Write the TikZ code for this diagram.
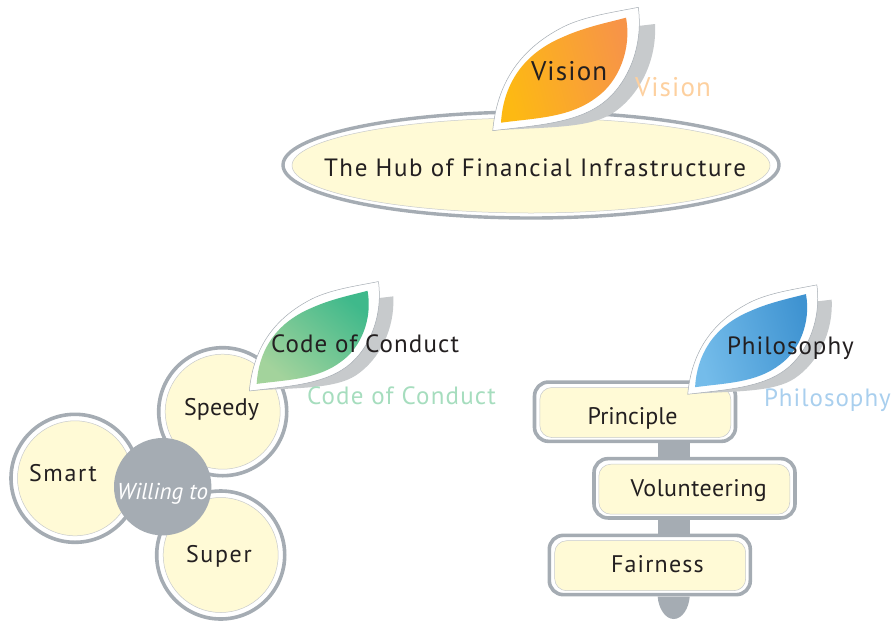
\documentclass[tikz,border=0pt]{standalone}
\usepackage{fontspec}
\setmainfont{PT Sans}
\usepackage{xcolor}
\usetikzlibrary{shapes.geometric}
\definecolor{ringgrey}{HTML}{A5ACB3}
\definecolor{shadowgrey}{HTML}{C7CACC}
\definecolor{cream}{HTML}{FFFAD6}
\definecolor{inktext}{HTML}{231F20}
\definecolor{paleorange}{HTML}{FDD09F}
\definecolor{palegreen}{HTML}{A6DDBE}
\definecolor{paleblue}{HTML}{A9CFEE}
\definecolor{visionstart}{HTML}{FDB913}
\definecolor{visionmid}{HTML}{FAA62E}
\definecolor{visionend}{HTML}{F79448}
\definecolor{codestart}{HTML}{A3D39C}
\definecolor{codeend}{HTML}{3FB98B}
\definecolor{philostart}{HTML}{74BCEA}
\definecolor{philomid}{HTML}{59A7DD}
\definecolor{philoend}{HTML}{3F93D1}
\tikzset{
  ringout/.style={circle,draw=ringgrey,line width=3.6pt,fill=white,minimum size=128pt,inner sep=0pt},
  ringin/.style={circle,draw=shadowgrey,line width=0.5pt,fill=cream,minimum size=115pt,inner sep=0pt},
  boxout/.style={rectangle,rounded corners=14pt,draw=ringgrey,line width=3.6pt,fill=white,minimum width=201pt,minimum height=59.3pt,inner sep=0pt},
  boxin/.style={rectangle,rounded corners=12pt,draw=shadowgrey,line width=0.5pt,fill=cream,minimum width=191pt,minimum height=50pt,inner sep=0pt},
  stem/.style={draw=ringgrey,line width=32pt,line cap=butt},
  word/.style={anchor=base west,inner sep=0pt,outer sep=0pt,text=inktext,font=\fontsize{#1}{30}\selectfont},
  paleword/.style={anchor=base west,inner sep=0pt,outer sep=0pt,text=#1,font=\fontsize{25}{30}\selectfont}
}
\newcommand{\track}[2]{{\addfontfeature{LetterSpace=#1}#2}}
\newcommand{\leafmark}[7]{%
  \begin{scope}[shift={(#1,#2)},scale=#3]
    \fill [shadowgrey] (145.3,-104.7) -- (162.3,-106.7) .. controls (164.3,-70.7) and (147.3,-35.7) .. (120.3,-17.7) .. controls (97.3,-2.7) and (57.3,-3.7) .. (7.3,-0.7) -- cycle;
    \draw [line width=0.5pt,draw=ringgrey,fill=white] (0,0) .. controls (4.3,-45.7) and (25.3,-80.7) .. (70.3,-103.7) .. controls (92.3,-114.7) and (122.3,-118.7) .. (145.6,-123.4) .. controls (151.3,-80.7) and (132.3,-40.7) .. (104.3,-23.7) .. controls (77.3,-6.7) and (37.3,-4.7) .. (0,0) -- cycle;
    \shade [left color=#4,middle color=#5,right color=#6,shading angle=#7] (8.3,-8) .. controls (10.3,-42.7) and (27.3,-75.7) .. (70.3,-93.7) .. controls (92.3,-103.7) and (117.3,-108.7) .. (133.3,-113) .. controls (139.3,-80.7) and (125.3,-48.7) .. (104.3,-33.7) .. controls (77.3,-12.7) and (42.3,-12.7) .. (8.3,-8) -- cycle;
  \end{scope}}
\begin{document}
\begin{tikzpicture}[line cap=round,line join=round,x=1pt,y=-1pt]
  \useasboundingbox (0,0) rectangle (893,621);
  \node [ellipse,draw=ringgrey,line width=3.4pt,fill=white,minimum width=496pt,minimum height=106pt,inner sep=0pt] (hubout) at (531,165) {};
  \node [ellipse,draw=shadowgrey,line width=0.5pt,fill=cream,minimum width=478pt,minimum height=95pt,inner sep=0pt] (hubin) at (531,165.5) {};
  \leafmark{492.7}{130.7}{1}{visionstart}{visionmid}{visionend}{105}

  \node [ringout] (smartout) at (75,478.3) {};
  \node [ringin] (smartin) at (75,478.3) {};
  \node [ringout] (speedyout) at (222.7,411.7) {};
  \node [ringin] (speedyin) at (222.7,411.7) {};
  \node [ringout] (superout) at (220.7,555) {};
  \node [ringin] (superin) at (220.7,555) {};
  \node [circle,fill=ringgrey,minimum size=97.4pt,inner sep=0pt] (willing) at (162.7,486.7) {};
  \leafmark{249.3}{391}{0.887}{codestart}{codeend}{codeend}{140}

  \coordinate (stemaxis) at (673.7,500);
  \node [boxout] (principleout) at (635,411.7) {};
  \node [boxin] (principlein) at (635.3,412.5) {};
  \node [boxout] (volunteerout) at (694.5,488.3) {};
  \node [boxin] (volunteerin) at (694.3,489.2) {};
  \node [boxout] (fairout) at (649.8,565) {};
  \node [boxin] (fairin) at (650.2,565.7) {};
  \draw [stem] (principleout.south -| stemaxis) -- (volunteerout.north -| stemaxis);
  \draw [stem] (volunteerout.south -| stemaxis) -- (fairout.north -| stemaxis);
  \fill [ringgrey] (657.7,596.7) .. controls (658.5,608) and (665,619) .. (673.7,619) .. controls (682.4,619) and (688.9,608) .. (689.7,596.7) -- cycle;
  \leafmark{687.7}{394.3}{0.887}{philostart}{philomid}{philoend}{105}

  \node [word=27] (visionword) at (531,80) {\track{4.3}{Vision}};
  \node [word=27,text=paleorange] (visionpale) at (635,96.7) {\track{4}{Vision}};
  \node [word=25] (hubword) at (324,176) {\track{6.4}{The Hub of Financial Infrastructure}};
  \node [word=25] (codeword) at (271,352) {\track{4.5}{Code of Conduct}};
  \node [paleword=palegreen] (codepale) at (307,404) {\track{4.8}{Code of Conduct}};
  \node [word=24] (speedyword) at (184,415) {\track{1}{Speedy}};
  \node [word=24] (smartword) at (29,481.7) {\track{7}{Smart}};
  \node [word=24] (superword) at (186,562.7) {\track{7}{Super}};
  \node [anchor=base west,inner sep=0pt,text=white,font=\fontsize{23}{30}\selectfont\itshape] (willingword) at (117,499) {Willing to};
  \node [word=25] (philosophyword) at (727,354) {\track{4}{Philosophy}};
  \node [paleword=paleblue] (philosophypale) at (764,406.7) {\track{4}{Philosophy}};
  \node [word=24] (principleword) at (587.7,424) {Principle};
  \node [word=24] (volunteerword) at (630.7,496.7) {\track{2}{Volunteering}};
  \node [word=24] (fairword) at (611,572.7) {\track{5}{Fairness}};
\end{tikzpicture}
\end{document}
